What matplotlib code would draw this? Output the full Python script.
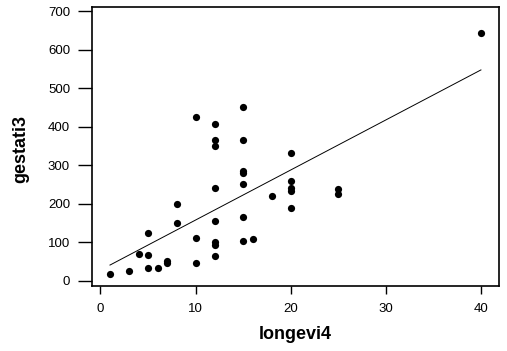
import matplotlib
matplotlib.use("Agg")
import matplotlib.pyplot as plt
import numpy as np

longevity = [1, 3, 4, 5, 5, 5, 6, 7, 7, 8, 8,
             10, 10, 10,
             12, 12, 12, 12, 12, 12, 12, 12,
             15, 15, 15, 15, 15, 15, 15,
             16, 18,
             20, 20, 20, 20, 20,
             25, 25, 40]
gestation = [17, 24, 68, 123, 66, 32, 32, 52, 46, 200, 150,
             425, 112, 45,
             406, 365, 350, 240, 155, 101, 93, 64,
             450, 365, 285, 279, 252, 166, 104,
             108, 220,
             331, 259, 240, 234, 188,
             238, 224, 643]
xticks = [0, 10, 20, 30, 40]
yticks = [0, 100, 200, 300, 400, 500, 600, 700]

plt.rcParams['font.family'] = ['Liberation Sans', 'DejaVu Sans']
fig = plt.figure(figsize=(5.07, 3.51), dpi=100)
ax = fig.add_axes([92.3/507, 65/351, (499-92.3)/507, (286-7)/351])

x = np.array(longevity, dtype=float)
y = np.array(gestation, dtype=float)
ax.plot(x, y, 'o', color='black', ms=5.2, mew=0)
b, a = np.polyfit(x, y, 1)
xl = np.array([x.min(), x.max()])
ax.plot(xl, a + b * xl, color='black', lw=0.7)

ax.set_xlim(-0.86, 41.9)
ax.set_ylim(-14, 711)
ax.set_xticks(xticks)
ax.set_yticks(yticks)
ax.tick_params(axis='x', length=6, width=1, pad=6, labelsize=9.5, color='black')
ax.tick_params(axis='y', length=10, width=1, pad=6, labelsize=9.5, color='black')
for s in ax.spines.values():
    s.set_linewidth(1.2)
ax.set_xlabel('longevi4', fontsize=13, fontweight='bold', labelpad=8)
ax.set_ylabel('gestati3', fontsize=13, fontweight='bold')
ax.yaxis.set_label_coords(-0.155, 0.49)

fig.savefig('out.png', dpi=100)
